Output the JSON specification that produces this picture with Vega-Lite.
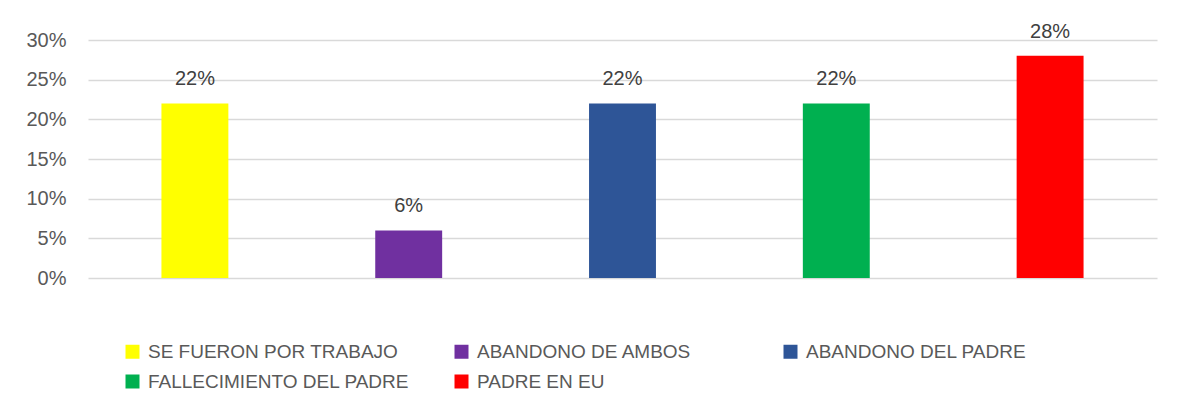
{
  "$schema": "https://vega.github.io/schema/vega-lite/v6.json",
  "width": 1069,
  "height": 238,
  "autosize": "none",
  "padding": {"left": 88, "top": 40, "right": 27, "bottom": 125},
  "background": "white",
  "config": {
    "view": {"stroke": null},
    "font": "Liberation Sans"
  },
  "data": {
    "values": [
      {"causa": "SE FUERON POR TRABAJO", "pct": 0.22},
      {"causa": "ABANDONO DE AMBOS", "pct": 0.06},
      {"causa": "ABANDONO DEL PADRE", "pct": 0.22},
      {"causa": "FALLECIMIENTO DEL PADRE", "pct": 0.22},
      {"causa": "PADRE EN EU", "pct": 0.28}
    ]
  },
  "encoding": {
    "x": {
      "field": "causa", "type": "nominal", "sort": null,
      "scale": {"paddingInner": 0.687, "paddingOuter": 0.3435},
      "axis": null
    },
    "y": {
      "field": "pct", "type": "quantitative",
      "scale": {"domain": [0, 0.3], "nice": false},
      "axis": {
        "title": null, "format": ".0%", "values": [0, 0.05, 0.1, 0.15, 0.2, 0.25, 0.3],
        "domain": false, "ticks": false, "labelPadding": 22,
        "labelFontSize": 20, "labelColor": "#595959", "labelFont": "Liberation Sans",
        "gridColor": "#D9D9D9", "gridWidth": 1.3
      }
    }
  },
  "layer": [
    {
      "mark": {"type": "bar"},
      "encoding": {
        "color": {
          "field": "causa", "type": "nominal",
          "scale": {
            "domain": ["SE FUERON POR TRABAJO", "ABANDONO DE AMBOS", "ABANDONO DEL PADRE", "FALLECIMIENTO DEL PADRE", "PADRE EN EU"],
            "range": ["#FFFF00", "#7030A0", "#2E5597", "#00B050", "#FF0000"]
          },
          "legend": {
            "title": null, "orient": "none", "legendX": 35, "legendY": 302,
            "columns": 3, "direction": "horizontal", "gridAlign": "all",
            "columnPadding": 42, "rowPadding": 10, "padding": 0,
            "symbolType": "square", "symbolSize": 196, "symbolStrokeWidth": 0,
            "symbolOpacity": 1, "labelOffset": 6,
            "labelFontSize": 19, "labelColor": "#595959", "labelFont": "Liberation Sans",
            "labelLimit": 400,
            "labelExpr": "datum.label == 'ABANDONO DE AMBOS' ? datum.label + '       ' : datum.label"
          }
        }
      }
    },
    {
      "mark": {"type": "text", "baseline": "alphabetic", "dy": -18, "fontSize": 20, "color": "#404040", "font": "Liberation Sans"},
      "encoding": {
        "text": {"field": "pct", "type": "quantitative", "format": ".0%"}
      }
    }
  ]
}
